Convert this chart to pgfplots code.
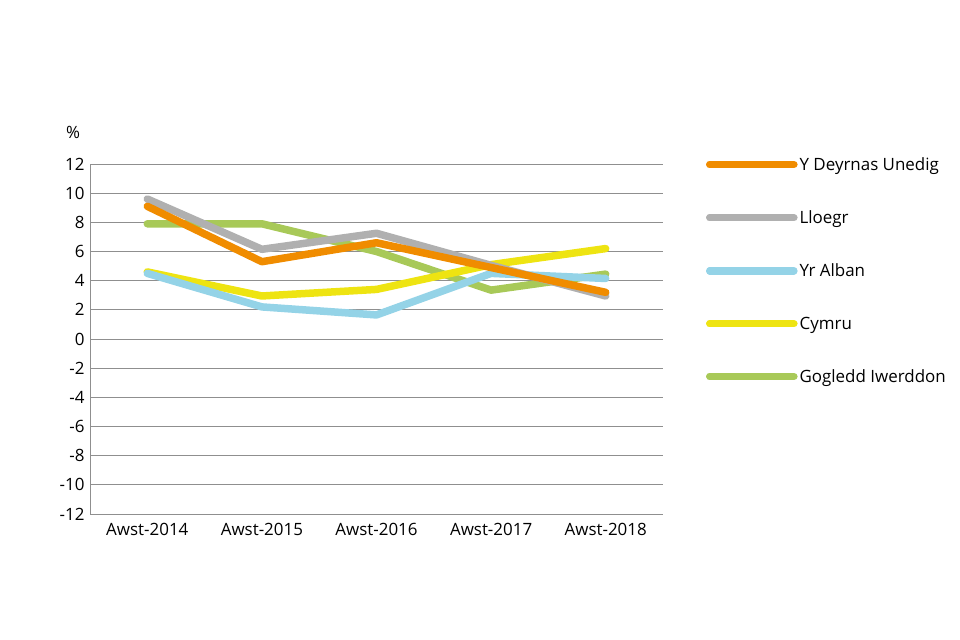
\documentclass[border=0pt]{standalone}
\usepackage{pgfplots}
\pgfplotsset{compat=1.18}
\usepackage{fontspec}
\setmainfont{Open Sans}
\definecolor{cUK}{HTML}{F08C00}
\definecolor{cEng}{HTML}{B0B0B0}
\definecolor{cSco}{HTML}{94D3E7}
\definecolor{cWal}{HTML}{EEE412}
\definecolor{cNI}{HTML}{A8C958}
\definecolor{gridc}{HTML}{8F8F8F}
\begin{document}
\begin{tikzpicture}
\useasboundingbox (0bp,0bp) rectangle (960bp,640bp);
\begin{axis}[
  at={(90bp,126bp)}, anchor=south west,
  width=573bp, height=350bp, scale only axis,
  xmin=-0.5, xmax=4.5, ymin=-12, ymax=12,
  xtick=data, xticklabels={Awst-2014,Awst-2015,Awst-2016,Awst-2017,Awst-2018},
  ytick={-12,-10,...,12},
  ymajorgrids, grid style={gridc, line width=0.9bp},
  major tick length=0pt,
  axis line style={draw=none},
  tick label style={font=\fontsize{17}{20}\selectfont, text=black},
  /pgf/number format/assume math mode=true,
  yticklabel style={xshift=-2bp},
  xticklabel style={yshift=-6bp},
  every axis plot/.append style={line width=7.5bp, line cap=round, line join=round},
  reverse legend,
  legend style={at={(1.0697,1.031)}, anchor=north west, draw=none, fill=none,
    font=\fontsize{17}{20}\selectfont, row sep=34.8bp,
    legend cell align=left},
  legend image code/.code={\draw[#1] (0bp,0bp) -- (71bp,0bp); \path (0bp,0bp) -- (84bp,0bp);},
]
\addplot[cNI] coordinates {(0,7.9) (1,7.9) (2,6.0) (3,3.35) (4,4.45)};
\addplot[cWal] coordinates {(0,4.6) (1,2.95) (2,3.4) (3,5.1) (4,6.2)};
\addplot[cSco] coordinates {(0,4.5) (1,2.2) (2,1.65) (3,4.5) (4,4.15)};
\addplot[cEng] coordinates {(0,9.6) (1,6.15) (2,7.25) (3,5.05) (4,2.95)};
\addplot[cUK] coordinates {(0,9.1) (1,5.3) (2,6.6) (3,4.9) (4,3.2)};
\legend{Gogledd Iwerddon,Cymru,Yr Alban,Lloegr,Y Deyrnas Unedig}
\draw[gridc, line width=0.9bp] (rel axis cs:0,0) -- (rel axis cs:0,1);
\end{axis}
\node[font=\fontsize{17}{20}\selectfont] at (73bp,508bp) {\%};
\end{tikzpicture}
\end{document}
